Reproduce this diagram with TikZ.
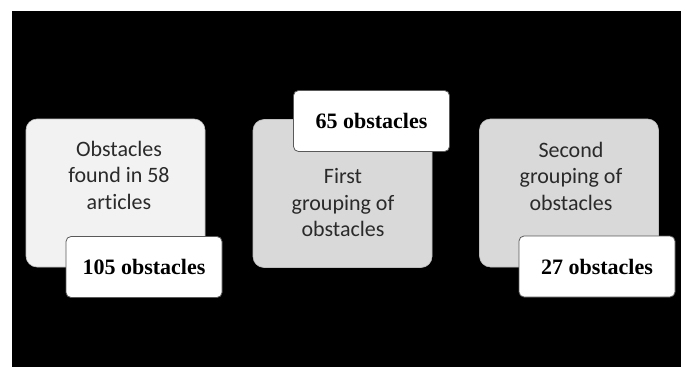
\documentclass[tikz,border=0pt]{standalone}
\usepackage{fontspec}
\setmainfont{Liberation Serif}
\newfontfamily\calfont[Ligatures=NoCommon]{Carlito}
\definecolor{boxlight}{HTML}{F2F2F2}
\definecolor{boxgray}{HTML}{D9D9D9}
\definecolor{txtgray}{HTML}{2A2A2A}
\begin{document}
\begin{tikzpicture}[x=1pt,y=-1pt,
  bigbox/.style={draw=black!25,line width=0.6pt,rounded corners=11pt,inner sep=0pt,
    minimum width=179pt,minimum height=148pt},
  numbox/.style={draw=black!65,fill=white,line width=0.8pt,rounded corners=5pt,inner sep=0pt,
    minimum width=156pt,minimum height=61pt,
    font=\fontsize{22}{26}\selectfont\bfseries},
  boxtext/.style={align=center,text=txtgray,inner sep=0pt,
    font=\calfont\fontsize{22}{26.5}\selectfont}]
\useasboundingbox (0,0) rectangle (681,367);
\fill[white] (0,0) rectangle (681,367);
\fill[black] (12,11) rectangle (681,367);
% large boxes
\node[bigbox,fill=boxlight] (b1) at (115.5,193) {};
\node[bigbox,fill=boxgray] (b2) at (342.5,193.5) {};
\node[bigbox,fill=boxgray] (b3) at (569,193) {};
% texts in large boxes
\node[boxtext] (t1) at (119,175) {Obstacles\\found in 58\\articles};
\node[boxtext] (t2) at (343,203) {First\\grouping of\\obstacles};
\node[boxtext] (t3) at (571,176) {Second\\grouping of\\obstacles};
% number boxes
\node[numbox] (n1) at (144,267) {105 obstacles};
\node[numbox] (n2) at (371.5,121) {65 obstacles};
\node[numbox] (n3) at (597,266.5) {27 obstacles};
\end{tikzpicture}
\end{document}
